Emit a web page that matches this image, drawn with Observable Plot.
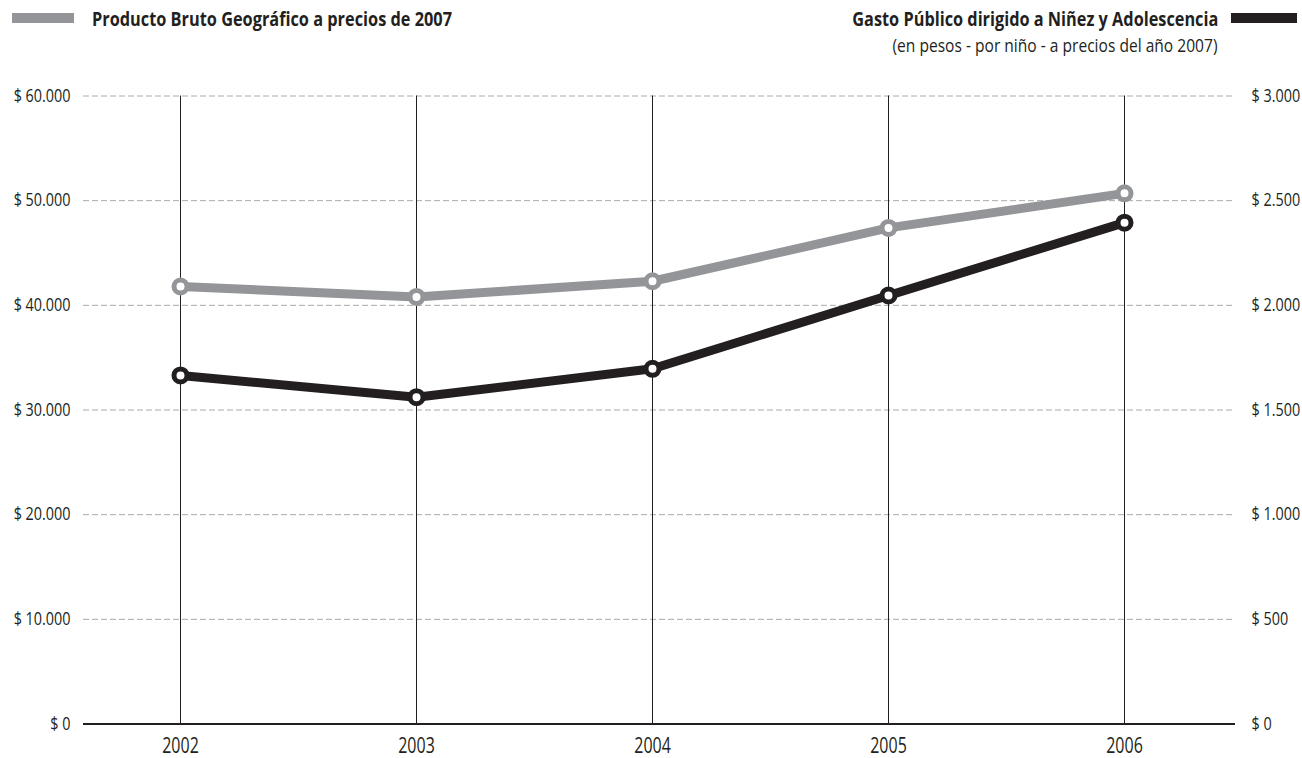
<!DOCTYPE html>
<html>
<head>
<meta charset="utf-8">
<script src="https://cdn.jsdelivr.net/npm/d3@7"></script>
<script src="https://cdn.jsdelivr.net/npm/@observablehq/plot@0.6"></script>
<style>
  html, body { margin: 0; padding: 0; background: #fff; }
  body { width: 1302px; height: 758px; overflow: hidden; font-family: "Open Sans", sans-serif; color: #231f20; }
  #header { position: relative; height: 70px; }
  .sw { position: absolute; }
  .t { position: absolute; white-space: nowrap; line-height: 1; }
  .b { font-weight: bold; font-size: 20px; }
  .s { font-size: 19px; }
  #chart svg { overflow: visible; }
</style>
</head>
<body>
<div id="header">
  <div class="sw" style="left:12px; top:13px; width:62px; height:10px; background:#939598;"></div>
  <div class="t b" id="t1" data-w="360" style="left:92px; top:9px; transform-origin:left top;">Producto Bruto Geográfico a precios de 2007</div>
  <div class="t b" id="t2" data-w="366" style="right:84px; top:9px; transform-origin:right top;">Gasto Público dirigido a Niñez y Adolescencia</div>
  <div class="sw" style="left:1231px; top:13px; width:66px; height:10px; background:#231f20;"></div>
  <div class="t s" id="t3" data-w="325" style="right:85px; top:36px; transform-origin:right top;">(en pesos - por niño - a precios del año 2007)</div>
</div>
<div id="chart"></div>
<script>
const years = [2002, 2003, 2004, 2005, 2006];
const pbg = [41800, 40800, 42300, 47400, 50700];      // left axis, $
const gasto = [1665, 1561, 1697, 2047, 2395];         // right axis, $ per child
const leftTicks = [0, 10000, 20000, 30000, 40000, 50000, 60000];
const rightTicks = [0, 500, 1000, 1500, 2000, 2500, 3000];

const ratio = 60000 / 3000; // right axis -> left axis units

const pbgData = years.map((y, i) => ({year: y, v: pbg[i]}));
const gastoData = years.map((y, i) => ({year: y, v: gasto[i] * ratio}));

const loc = d3.formatLocale({decimal: ",", thousands: ".", grouping: [3], currency: ["$", ""]});
const f = loc.format(",.0f");
const money = d => "$ " + f(d);

const GRAY = "#939598", BLACK = "#231f20";

const chart = Plot.plot({
  width: 1302,
  height: 688,
  marginLeft: 83,
  marginRight: 67,
  marginTop: 25.5,
  marginBottom: 34.5,
  x: {type: "linear", domain: [2002 - 97/236, 2006 + 111/236]},
  y: {domain: [0, 60000]},
  style: {fontFamily: '"Open Sans", sans-serif', fontSize: "18px", color: BLACK, background: "white", overflow: "visible"},
  marks: [
    Plot.ruleY(leftTicks.filter(d => d > 0), {stroke: "#aaaaaa", strokeWidth: 1, strokeDasharray: "6,3"}),
    Plot.ruleX(years, {y1: 0, y2: 60000, stroke: BLACK, strokeWidth: 1}),
    Plot.ruleY([0], {stroke: BLACK, strokeWidth: 2}),
    Plot.line(pbgData, {x: "year", y: "v", stroke: GRAY, strokeWidth: 9}),
    Plot.line(gastoData, {x: "year", y: "v", stroke: BLACK, strokeWidth: 9}),
    Plot.dot(pbgData, {x: "year", y: "v", r: 6.5, fill: "white", stroke: GRAY, strokeWidth: 5}),
    Plot.dot(gastoData, {x: "year", y: "v", r: 6.5, fill: "white", stroke: BLACK, strokeWidth: 5}),
    Plot.axisY({anchor: "left", ticks: leftTicks, tickFormat: money, tickSize: 0, tickPadding: 13, label: null}),
    Plot.axisY({anchor: "right", ticks: rightTicks.map(d => d * ratio), tickFormat: d => money(d / ratio), tickSize: 0, tickPadding: 16, label: null}),
    Plot.axisX({ticks: years, tickFormat: d => String(d), tickSize: 0, tickPadding: 13, fontSize: 22.5, label: null})
  ]
});
document.getElementById("chart").appendChild(chart);

// condense texts horizontally around their anchor (reference uses a condensed typeface)
function squeeze(sel, s) {
  chart.querySelectorAll(sel).forEach(t => {
    const bb = t.getBBox();
    const anchor = getComputedStyle(t).textAnchor;
    const ax = anchor === "end" ? bb.x + bb.width : anchor === "middle" ? bb.x + bb.width / 2 : bb.x;
    const tr = t.getAttribute("transform") || "";
    t.setAttribute("transform", `${tr} translate(${ax},0) scale(${s},1) translate(${-ax},0)`.trim());
  });
}
squeeze('g[aria-label="y-axis tick label"] text', 0.80);
squeeze('g[aria-label="x-axis tick label"] text', 0.71);

document.querySelectorAll(".t").forEach(el => {
  const w = el.getBoundingClientRect().width;
  el.style.transform = `scaleX(${(+el.dataset.w) / w})`;
});
</script>
</body>
</html>
